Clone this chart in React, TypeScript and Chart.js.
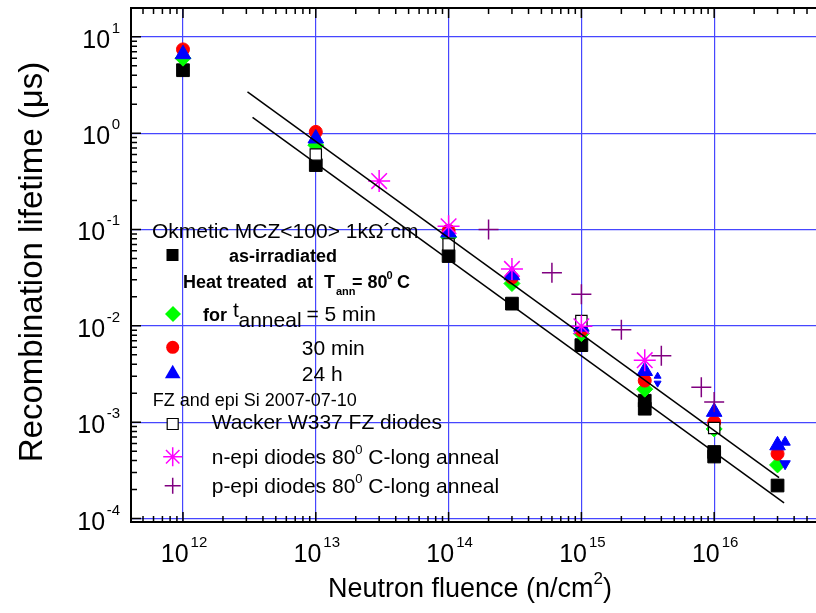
import React, { useEffect, useRef } from 'react';
import { Chart, registerables } from 'chart.js';

Chart.register(...registerables);

// ---------- axis ranges (the plot frame runs past the right edge of the picture) ----------
const CANVAS_W = 830;
const CANVAS_H = 613;
const X_MIN = 4.06e11;
const X_MAX = 7.45e16;
const Y_MIN = 9.2e-5;
const Y_MAX = 19.9;

const xDecades = [12, 13, 14, 15, 16];
const yDecades = [-4, -3, -2, -1, 0, 1];

// ---------- data (fluence n/cm^2, lifetime us) ----------
const asIrrFluence = [1e12, 1e13, 1e14, 3e14, 1e15, 3e15, 3e15, 1e16, 1e16, 3e16];
const asIrrTau = [4.5, 0.466, 0.053, 0.017, 0.0063, 0.00167, 0.00138, 0.00049, 0.00044, 0.00022];

const annFluence = [1e12, 1e13, 1e14, 3e14, 1e15, 3e15, 1e16, 3e16];
const ann5minTau = [6.0, 0.75, 0.083, 0.0275, 0.0083, 0.0022, 0.00085, 0.00036];
const ann30minTau = [7.4, 1.03, 0.097, 0.0317, 0.009, 0.0027, 0.001, 0.00047];
const ann24hTau = [6.6, 0.88, 0.093, 0.0335, 0.0098, 0.0034, 0.00128, 0.000575];

const wackerFluence = [1e13, 1e14, 1e15, 1e16];
const wackerTau = [0.6, 0.07, 0.0112, 0.00087];

const nEpiFluence = [3e13, 1e14, 3e14, 1e15, 3e15];
const nEpiTau = [0.318, 0.108, 0.039, 0.0099, 0.0044];

const pEpiFluence = [2e14, 6e14, 1e15, 2e15, 4e15, 8e15, 1e16];
const pEpiTau = [0.1, 0.0355, 0.0213, 0.0091, 0.0049, 0.0023, 0.00162];

const arrowFluence = [3.75e15, 3.42e16];
const arrowUpTau = [0.003, 0.00062];
const arrowDownTau = [0.00254, 0.00037];

const fitUpperFluence = [3.06e12, 3.08e16];
const fitUpperTau = [2.68, 0.000266];
const fitLowerFluence = [3.34e12, 3.36e16];
const fitLowerTau = [1.455, 0.000145];

// ---------- helpers ----------
const FONT = '"Liberation Sans", Arial, Helvetica, sans-serif';
const GRID = 'rgb(70,70,255)';

const pts = (xs: number[], ys: number[]) => xs.map((x, i) => ({ x, y: ys[i] }));

function isDecade(v: number | undefined) {
  if (v === undefined || v <= 0) return false;
  const l = Math.log10(v);
  return Math.abs(l - Math.round(l)) < 1e-6;
}

function buildLogTicks(lo: number, hi: number) {
  const out: { value: number }[] = [];
  const e0 = Math.floor(Math.log10(lo));
  const e1 = Math.ceil(Math.log10(hi));
  for (let e = e0; e <= e1; e++) {
    for (let k = 1; k <= 9; k++) {
      const v = k * Math.pow(10, e);
      if (v >= lo && v <= hi) out.push({ value: v });
    }
  }
  return out;
}

function setFont(ctx: CanvasRenderingContext2D, size: number, bold = false) {
  ctx.font = `${bold ? 'bold ' : ''}${size}px ${FONT}`;
}

function drawMarker(ctx: CanvasRenderingContext2D, kind: string, x: number, y: number) {
  ctx.save();
  ctx.beginPath();
  switch (kind) {
    case 'square':
      ctx.fillStyle = '#000';
      ctx.fillRect(x - 6, y - 6, 12, 12);
      break;
    case 'diamond':
      ctx.fillStyle = '#00ff00';
      ctx.moveTo(x, y - 8);
      ctx.lineTo(x + 8, y);
      ctx.lineTo(x, y + 8);
      ctx.lineTo(x - 8, y);
      ctx.closePath();
      ctx.fill();
      break;
    case 'circle':
      ctx.fillStyle = '#ff0000';
      ctx.arc(x, y, 6.5, 0, Math.PI * 2);
      ctx.fill();
      break;
    case 'triangle':
      ctx.fillStyle = '#0000ff';
      ctx.moveTo(x, y - 8.5);
      ctx.lineTo(x + 7.8, y + 5);
      ctx.lineTo(x - 7.8, y + 5);
      ctx.closePath();
      ctx.fill();
      break;
    case 'open':
      ctx.fillStyle = '#fff';
      ctx.strokeStyle = '#000';
      ctx.lineWidth = 1.2;
      ctx.rect(x - 5.5, y - 5.5, 11, 11);
      ctx.fill();
      ctx.stroke();
      break;
    case 'star': {
      ctx.strokeStyle = '#ff00ff';
      ctx.lineWidth = 1.5;
      const r = 9.5;
      const d = r * Math.SQRT1_2;
      ctx.moveTo(x - r, y); ctx.lineTo(x + r, y);
      ctx.moveTo(x, y - r); ctx.lineTo(x, y + r);
      ctx.moveTo(x - d, y - d); ctx.lineTo(x + d, y + d);
      ctx.moveTo(x - d, y + d); ctx.lineTo(x + d, y - d);
      ctx.stroke();
      break;
    }
    case 'plus': {
      ctx.strokeStyle = '#800080';
      ctx.lineWidth = 1.5;
      const r = 8;
      ctx.moveTo(x - r, y); ctx.lineTo(x + r, y);
      ctx.moveTo(x, y - r); ctx.lineTo(x, y + r);
      ctx.stroke();
      break;
    }
  }
  ctx.restore();
}

// text with superscript: parts [text, size, bold, dy]
function drawRich(ctx: CanvasRenderingContext2D, x: number, y: number, parts: [string, number, boolean, number][]) {
  let cx = x;
  for (const [t, size, bold, dy] of parts) {
    setFont(ctx, size, bold);
    ctx.fillText(t, cx, y + dy);
    cx += ctx.measureText(t).width;
  }
  return cx;
}

const decorPlugin = {
  id: 'decor',
  afterDraw(chart: any) {
    const { ctx, chartArea: ca, scales } = chart;
    const xs = scales.x;
    const ys = scales.y;
    ctx.save();

    // frame (open on the right: it runs past the visible edge)
    ctx.strokeStyle = '#000';
    ctx.lineWidth = 2;
    ctx.beginPath();
    ctx.moveTo(ca.right, ca.top);
    ctx.lineTo(ca.left, ca.top);
    ctx.lineTo(ca.left, ca.bottom);
    ctx.lineTo(ca.right, ca.bottom);
    ctx.stroke();

    // inward ticks
    ctx.lineWidth = 1.5;
    ctx.beginPath();
    for (const t of xs.ticks) {
      const px = xs.getPixelForValue(t.value);
      if (px < ca.left + 2 || px > ca.right) continue;
      const len = isDecade(t.value) ? 10 : 6;
      ctx.moveTo(px, ca.bottom);
      ctx.lineTo(px, ca.bottom - len);
      ctx.moveTo(px, ca.top);
      ctx.lineTo(px, ca.top + len);
    }
    for (const t of ys.ticks) {
      const py = ys.getPixelForValue(t.value);
      if (py < ca.top + 2 || py > ca.bottom - 1) continue;
      const len = isDecade(t.value) ? 10 : 6;
      ctx.moveTo(ca.left, py);
      ctx.lineTo(ca.left + len, py);
    }
    ctx.stroke();

    // tick labels
    ctx.fillStyle = '#000';
    ctx.textAlign = 'left';
    ctx.textBaseline = 'alphabetic';
    for (const e of xDecades) {
      const px = xs.getPixelForValue(Math.pow(10, e));
      setFont(ctx, 25);
      const wb = ctx.measureText('10').width;
      setFont(ctx, 15);
      const we = ctx.measureText(String(e)).width;
      const start = px - (wb + 2 + we) / 2 + 1;
      setFont(ctx, 25);
      ctx.fillText('10', start, ca.bottom + 40);
      setFont(ctx, 15);
      ctx.fillText(String(e), start + wb + 2, ca.bottom + 25);
    }
    for (const e of yDecades) {
      const py = ys.getPixelForValue(Math.pow(10, e));
      const right = ca.left - 11;
      setFont(ctx, 15);
      const es = String(e);
      const we = ctx.measureText(es).width;
      ctx.fillText(es, right - we, py - 4);
      setFont(ctx, 25);
      const wb = ctx.measureText('10').width;
      ctx.fillText('10', right - we - 1.5 - wb, py + 11);
    }

    // axis titles
    {
      setFont(ctx, 27);
      const a = 'Neutron fluence (n/cm';
      const wa = ctx.measureText(a).width;
      const wc = ctx.measureText(')').width;
      setFont(ctx, 17);
      const w2 = ctx.measureText('2').width;
      const total = wa + w2 + wc;
      const sx = 470 - total / 2;
      drawRich(ctx, sx, 597, [[a, 27, false, 0], ['2', 17, false, -13], [')', 27, false, 0]]);
    }
    {
      ctx.save();
      ctx.translate(42, 262);
      ctx.rotate(-Math.PI / 2);
      setFont(ctx, 33);
      ctx.textAlign = 'center';
      ctx.fillText('Recombination lifetime (\u03bcs)', 0, 0);
      ctx.restore();
    }

    // legend
    ctx.textAlign = 'left';
    ctx.fillStyle = '#000';
    setFont(ctx, 21);
    ctx.fillText('Okmetic MCZ<100> 1k\u03a9\u00b4cm', 152, 238);

    drawMarker(ctx, 'square', 172.5, 255);
    setFont(ctx, 18, true);
    ctx.fillText('as-irradiated', 229, 261.5);

    setFont(ctx, 18, true);
    ctx.fillText('Heat treated  at', 183, 288);
    ctx.fillText('T', 324, 288);
    setFont(ctx, 11, true);
    ctx.fillText('ann', 336, 295);
    setFont(ctx, 18, true);
    ctx.fillText('= 80', 352, 288);
    setFont(ctx, 11, true);
    ctx.fillText('0', 386.5, 279);
    setFont(ctx, 18, true);
    ctx.fillText('C', 397, 288);

    drawMarker(ctx, 'diamond', 173, 314);
    setFont(ctx, 18, true);
    ctx.fillText('for', 203, 320.5);
    setFont(ctx, 21);
    ctx.fillText('t', 233, 317);
    ctx.fillText('anneal', 238.5, 327);
    ctx.fillText('= 5 min', 306.5, 321);

    drawMarker(ctx, 'circle', 172.7, 347.3);
    setFont(ctx, 21);
    ctx.fillText('30 min', 301.7, 354.5);

    drawMarker(ctx, 'triangle', 172.7, 373.3);
    ctx.fillText('24 h', 301.7, 380.5);

    setFont(ctx, 18);
    ctx.fillText('FZ and epi Si 2007-07-10', 152.7, 406);

    drawMarker(ctx, 'open', 172.7, 424);
    setFont(ctx, 21);
    ctx.fillText('Wacker W337 FZ diodes', 211.7, 429);

    drawMarker(ctx, 'star', 172.7, 456.7);
    drawRich(ctx, 211.7, 463.5, [['n-epi diodes 80', 21, false, 0], ['0', 13, false, -10], [' C-long anneal', 21, false, 0]]);

    drawMarker(ctx, 'plus', 172.7, 485.7);
    drawRich(ctx, 211.7, 492.5, [['p-epi diodes 80', 21, false, 0], ['0', 13, false, -10], [' C-long anneal', 21, false, 0]]);

    ctx.restore();
  },
};

export default function App() {
  const ref = useRef<HTMLCanvasElement | null>(null);

  useEffect(() => {
    if (!ref.current) return;
    const lineDs = (label: string, xs: number[], ys: number[]) => ({
      label,
      data: pts(xs, ys),
      showLine: true,
      borderColor: '#000',
      borderWidth: 1.5,
      pointRadius: 0,
      fill: false,
    });

    const chart = new Chart(ref.current, {
      type: 'scatter',
      data: {
        datasets: [
          lineDs('fit upper', fitUpperFluence, fitUpperTau),
          lineDs('fit lower', fitLowerFluence, fitLowerTau),
          {
            label: 'p-epi diodes 80 C-long anneal',
            data: pts(pEpiFluence, pEpiTau),
            pointStyle: 'cross',
            pointRadius: 10,
            borderColor: '#800080',
            borderWidth: 1.5,
          },
          {
            label: 'n-epi diodes 80 C-long anneal',
            data: pts(nEpiFluence, nEpiTau),
            pointStyle: 'star',
            pointRadius: 11,
            borderColor: '#ff00ff',
            borderWidth: 1.5,
          },
          {
            label: 'arrow up',
            data: pts(arrowFluence, arrowUpTau),
            pointStyle: 'triangle',
            pointRadius: (c: any) => (c.parsed && c.parsed.x > 1e16 ? 6 : 4),
            backgroundColor: '#0000ff',
            borderColor: '#0000ff',
            borderWidth: 1,
          },
          {
            label: 'arrow down',
            data: pts(arrowFluence, arrowDownTau),
            pointStyle: 'triangle',
            rotation: 180,
            pointRadius: (c: any) => (c.parsed && c.parsed.x > 1e16 ? 6 : 4),
            backgroundColor: '#0000ff',
            borderColor: '#0000ff',
            borderWidth: 1,
          },
          {
            label: 'Wacker W337 FZ diodes',
            data: pts(wackerFluence, wackerTau),
            pointStyle: 'rect',
            pointRadius: 8,
            backgroundColor: '#ffffff',
            borderColor: '#000',
            borderWidth: 1.2,
          },
          {
            label: '24 h',
            data: pts(annFluence, ann24hTau),
            pointStyle: 'triangle',
            pointRadius: 9,
            backgroundColor: '#0000ff',
            borderColor: '#0000ff',
            borderWidth: 1,
          },
          {
            label: '30 min',
            data: pts(annFluence, ann30minTau),
            pointStyle: 'circle',
            pointRadius: 6.5,
            backgroundColor: '#ff0000',
            borderColor: '#ff0000',
            borderWidth: 1,
          },
          {
            label: '5 min',
            data: pts(annFluence, ann5minTau),
            pointStyle: 'rectRot',
            pointRadius: 8,
            backgroundColor: '#00ff00',
            borderColor: '#00ff00',
            borderWidth: 1,
          },
          {
            label: 'as-irradiated',
            data: pts(asIrrFluence, asIrrTau),
            pointStyle: 'rect',
            pointRadius: 9,
            backgroundColor: '#000',
            borderColor: '#000',
            borderWidth: 1,
          },
        ],
      },
      options: {
        responsive: false,
        animation: false,
        events: [],
        layout: { autoPadding: false, padding: { left: 131, top: 8, right: 0, bottom: 91 } },
        plugins: { legend: { display: false }, tooltip: { enabled: false } },
        scales: {
          x: {
            type: 'logarithmic',
            min: X_MIN,
            max: X_MAX,
            afterBuildTicks: (s: any) => {
              s.ticks = buildLogTicks(X_MIN, X_MAX);
            },
            ticks: { display: false },
            grid: {
              color: (c: any) => (isDecade(c.tick && c.tick.value) ? GRID : 'rgba(0,0,0,0)'),
              lineWidth: 1.2,
              drawTicks: false,
            },
            border: { display: false },
          },
          y: {
            type: 'logarithmic',
            min: Y_MIN,
            max: Y_MAX,
            afterBuildTicks: (s: any) => {
              s.ticks = buildLogTicks(Y_MIN, Y_MAX);
            },
            ticks: { display: false },
            grid: {
              color: (c: any) => (isDecade(c.tick && c.tick.value) ? GRID : 'rgba(0,0,0,0)'),
              lineWidth: 1.2,
              drawTicks: false,
            },
            border: { display: false },
          },
        },
      } as any,
      plugins: [decorPlugin],
    } as any);
    return () => chart.destroy();
  }, []);

  return (
    <div style={{ position: 'absolute', left: 0, top: 0, width: 816, height: CANVAS_H, overflow: 'hidden', background: '#fff' }}>
      <canvas ref={ref} width={CANVAS_W} height={CANVAS_H} style={{ display: 'block', width: CANVAS_W, height: CANVAS_H }} />
    </div>
  );
}
